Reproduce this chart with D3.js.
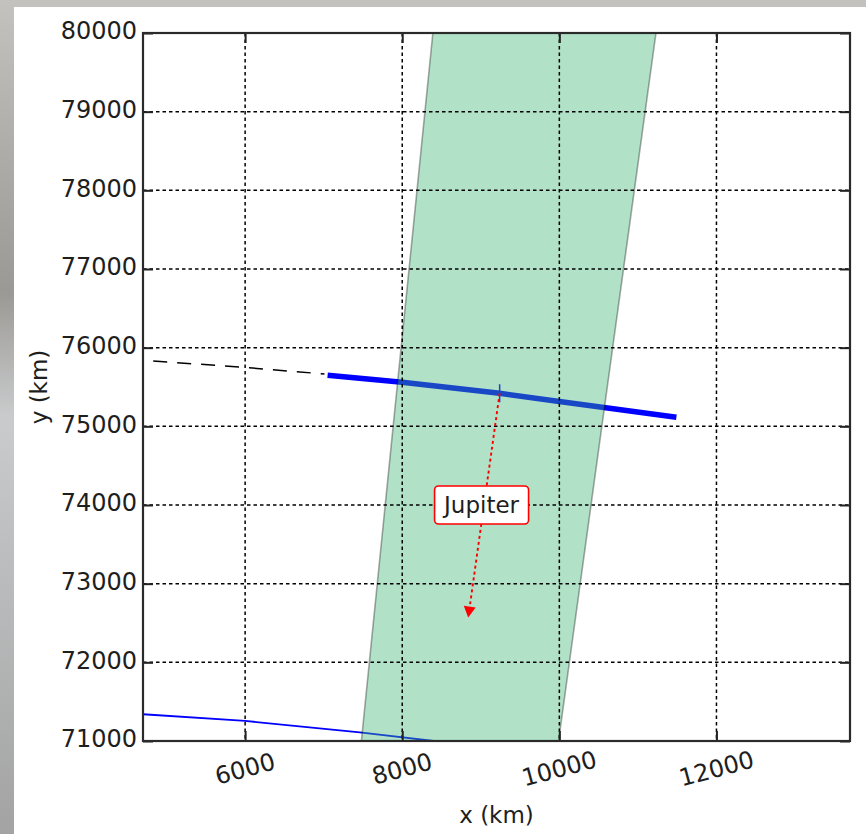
<!DOCTYPE html>
<html>
<head>
<meta charset="utf-8">
<style>
body { margin: 0; }
text { font-family: "DejaVu Sans", sans-serif; fill: #1e1e1e; }
</style>
</head>
<body>
<svg width="866" height="834"></svg>
<script src="https://d3js.org/d3.v7.min.js"></script>
<script>
// axis ranges / ticks
var xDomain = [4700, 13700];
var yDomain = [71000, 80000];
var xTicks = [6000, 8000, 10000, 12000];
var yTicks = [71000, 72000, 73000, 74000, 75000, 76000, 77000, 78000, 79000, 80000];

// tracks (x km, y km)
var pathX = [7050, 8000, 9240, 10000, 11490];
var pathY = [75650, 75560, 75420, 75315, 75115];
var pastX = [4830, 5930, 7010];
var pastY = [75830, 75755, 75665];
var lowX = [4700, 6000, 7460, 8400];
var lowY = [71340, 71255, 71110, 71000];
// shaded strip corners
var bandX = [7480, 8390, 11230, 9990];
var bandY = [71000, 80000, 80000, 71000];
// Jupiter annotation
var jupiterFrom = [9240, 75420];
var jupiterTo = [8840, 72570];
var jupiterLabel = [9010, 74000];

var svg = d3.select("svg"),
    pL = 143, pR = 850, pT = 33, pB = 741;

var x = d3.scaleLinear().domain(xDomain).range([pL, pR]);
var y = d3.scaleLinear().domain(yDomain).range([pB, pT]);

// grey photo-like backdrop and white card
var defs = svg.append("defs");
var grad = defs.append("linearGradient").attr("id", "bg").attr("x1", 0).attr("y1", 0).attr("x2", 0).attr("y2", 1);
grad.append("stop").attr("offset", "0%").attr("stop-color", "#c4c2bf");
grad.append("stop").attr("offset", "35%").attr("stop-color", "#9b9995");
grad.append("stop").attr("offset", "50%").attr("stop-color", "#c9cbcc");
grad.append("stop").attr("offset", "100%").attr("stop-color", "#a3a3a3");
svg.append("rect").attr("width", 866).attr("height", 834).attr("fill", "url(#bg)");
svg.append("rect").attr("x", 14).attr("y", 7).attr("width", 852).attr("height", 827).attr("fill", "#fff");

defs.append("clipPath").attr("id", "plot")
  .append("rect").attr("x", pL).attr("y", pT).attr("width", pR - pL).attr("height", pB - pT);

var g = svg.append("g").attr("clip-path", "url(#plot)");

var line = d3.line().x(function(d) { return x(d[0]); }).y(function(d) { return y(d[1]); });

// blue tracks under the strip
g.append("path")
    .attr("d", line(d3.zip(lowX, lowY)))
    .attr("fill", "none").attr("stroke", "#0000ff").attr("stroke-width", 1.8);

g.append("path")
    .attr("d", line(d3.zip(pastX, pastY)))
    .attr("fill", "none").attr("stroke", "#000").attr("stroke-width", 1.5)
    .attr("stroke-dasharray", "14,10");

g.append("path")
    .attr("d", line(d3.zip(pathX, pathY)))
    .attr("fill", "none").attr("stroke", "#0000ff").attr("stroke-width", 5.5);

// Jupiter position marker
g.append("path")
    .attr("d", "M" + (x(jupiterFrom[0]) - 9) + "," + y(jupiterFrom[1]) + "h18" +
               "M" + x(jupiterFrom[0]) + "," + (y(jupiterFrom[1]) - 9) + "v18")
    .attr("fill", "none").attr("stroke", "#0000ff").attr("stroke-width", 1.5);

g.append("path")
    .attr("d", line(d3.zip(bandX, bandY)) + "Z")
    .attr("fill", "mediumseagreen").attr("fill-opacity", 0.4)
    .attr("stroke", "#000").attr("stroke-opacity", 0.33).attr("stroke-width", 1.6);

// dotted grid
g.selectAll(".vgrid").data(xTicks).enter().append("line")
    .attr("x1", x).attr("x2", x).attr("y1", pT).attr("y2", pB)
    .attr("stroke", "#000").attr("stroke-width", 1.5).attr("stroke-dasharray", "3.5,3");
g.selectAll(".hgrid").data(yTicks).enter().append("line")
    .attr("y1", y).attr("y2", y).attr("x1", pL).attr("x2", pR)
    .attr("stroke", "#000").attr("stroke-width", 1.5).attr("stroke-dasharray", "3.5,3");

// inward ticks on all four sides
var tl = 10;
svg.append("g").attr("transform", "translate(0," + pB + ")")
    .call(d3.axisTop(x).tickValues(xTicks).tickSize(tl).tickFormat(""));
svg.append("g").attr("transform", "translate(0," + pT + ")")
    .call(d3.axisBottom(x).tickValues(xTicks).tickSize(tl).tickFormat(""));
svg.append("g").attr("transform", "translate(" + pL + ",0)")
    .call(d3.axisRight(y).tickValues(yTicks).tickSize(tl).tickFormat(""));
svg.append("g").attr("transform", "translate(" + pR + ",0)")
    .call(d3.axisLeft(y).tickValues(yTicks).tickSize(tl).tickFormat(""));
svg.selectAll(".domain").remove();
svg.selectAll(".tick line").attr("stroke", "#222").attr("stroke-width", 2);

// frame
svg.append("rect").attr("x", pL).attr("y", pT).attr("width", pR - pL).attr("height", pB - pT)
    .attr("fill", "none").attr("stroke", "#2a2a2a").attr("stroke-width", 2.2);

// tick labels
svg.selectAll(".ylab").data(yTicks).enter().append("text")
    .attr("x", pL - 6).attr("y", y).attr("dy", "0.27em")
    .attr("text-anchor", "end").attr("font-size", 24)
    .text(function(d) { return d; });

svg.selectAll(".xlab").data(xTicks).enter().append("text")
    .attr("transform", function(d) { return "translate(" + x(d) + ",769) rotate(-15)"; })
    .attr("text-anchor", "middle").attr("dominant-baseline", "central").attr("font-size", 24)
    .text(function(d) { return d; });

svg.append("text").attr("x", (pL + pR) / 2).attr("y", 815)
    .attr("text-anchor", "middle").attr("dominant-baseline", "central").attr("font-size", 23)
    .text("x (km)");
svg.append("text").attr("transform", "translate(39," + (pT + pB) / 2 + ") rotate(-90)")
    .attr("text-anchor", "middle").attr("dominant-baseline", "central").attr("font-size", 23)
    .text("y (km)");

// dotted arrow and boxed label
var fx = x(jupiterFrom[0]), fy = y(jupiterFrom[1]);
var tx = x(jupiterTo[0]), ty = y(jupiterTo[1]);
var ang = Math.atan2(ty - fy, tx - fx);
var headLen = 11, headW = 6;
var bx = tx - headLen * Math.cos(ang), by = ty - headLen * Math.sin(ang);

svg.append("line")
    .attr("x1", fx).attr("y1", fy).attr("x2", bx).attr("y2", by)
    .attr("stroke", "#ff0000").attr("stroke-width", 1.9).attr("stroke-dasharray", "3,3");
svg.append("path")
    .attr("d", "M" + tx + "," + ty +
         "L" + (bx + headW * Math.sin(ang)) + "," + (by - headW * Math.cos(ang)) +
         "L" + (bx - headW * Math.sin(ang)) + "," + (by + headW * Math.cos(ang)) + "Z")
    .attr("fill", "#ff0000");

var lx = x(jupiterLabel[0]), ly = y(jupiterLabel[1]);
svg.append("rect")
    .attr("x", lx - 47).attr("y", ly - 19).attr("width", 94).attr("height", 38)
    .attr("rx", 4).attr("fill", "#fff").attr("stroke", "#ff0000").attr("stroke-width", 1.6);
svg.append("text").attr("x", lx).attr("y", ly)
    .attr("text-anchor", "middle").attr("dominant-baseline", "central").attr("font-size", 23)
    .text("Jupiter");
</script>
</body>
</html>
